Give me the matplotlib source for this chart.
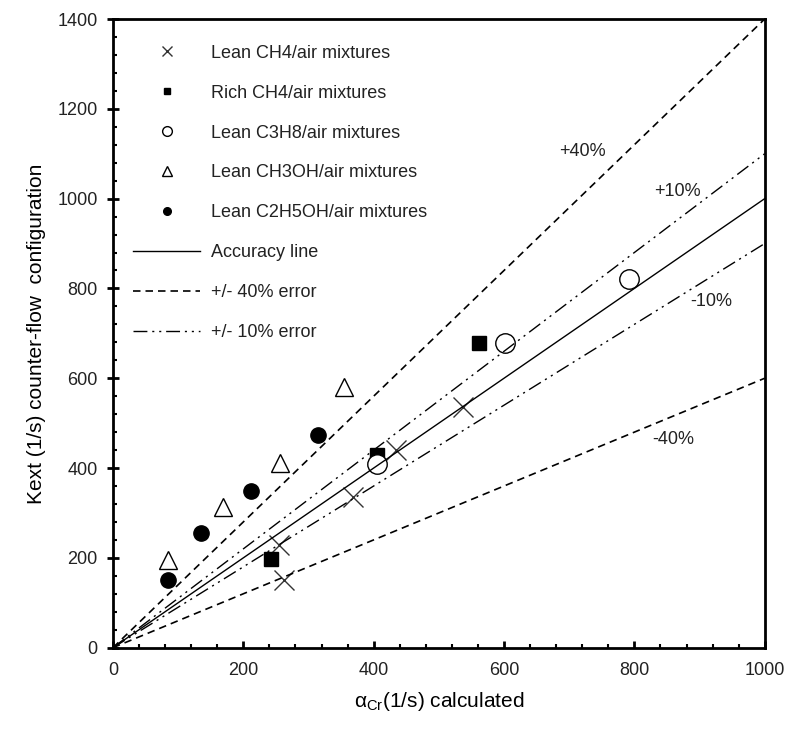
import matplotlib.pyplot as plt
import numpy as np

plt.rcParams['font.family'] = ['Liberation Sans', 'DejaVu Sans']
plt.rcParams['text.color'] = '#222222'
plt.rcParams['xtick.labelcolor'] = '#222222'
plt.rcParams['ytick.labelcolor'] = '#222222'

# data
lean_ch4_x = [262, 254, 368, 435, 537]
lean_ch4_y = [151, 229, 336, 441, 536]
rich_ch4_x = [243, 405, 562]
rich_ch4_y = [198, 429, 679]
c3h8_x = [405, 602, 792]
c3h8_y = [410, 679, 821]
ch3oh_x = [85, 169, 257, 355]
ch3oh_y = [196, 314, 412, 581]
c2h5oh_x = [85, 135, 212, 314]
c2h5oh_y = [151, 256, 349, 474]

line_x = [0, 1000]
factors = [1.0, 1.4, 0.6, 1.1, 0.9]

fig = plt.figure(figsize=(7.9, 7.31), dpi=100)
ax = fig.add_axes([0.143, 0.114, 0.825, 0.86])

ax.plot(lean_ch4_x, lean_ch4_y, 'x', color='#333333', ms=14, mew=1.0, label='Lean CH4/air mixtures')
ax.plot(rich_ch4_x, rich_ch4_y, 's', color='black', ms=10, label='Rich CH4/air mixtures')
ax.plot(c3h8_x, c3h8_y, 'o', mfc='white', mec='black', ms=14, mew=1.0, label='Lean C3H8/air mixtures')
ax.plot(ch3oh_x, ch3oh_y, '^', mfc='white', mec='black', ms=13, mew=1.0, label='Lean CH3OH/air mixtures')
ax.plot(c2h5oh_x, c2h5oh_y, 'o', color='black', ms=11, label='Lean C2H5OH/air mixtures')

lx = np.array(line_x)
ax.plot(lx, factors[0] * lx, '-', color='black', lw=1.0, label='Accuracy line')
ax.plot(lx, factors[1] * lx, color='black', lw=1.2, ls=(0, (4.5, 3)), label='+/- 40% error')
ax.plot(lx, factors[2] * lx, color='black', lw=1.2, ls=(0, (4.5, 3)))
ax.plot(lx, factors[3] * lx, color='black', lw=1.0, ls=(0, (10, 3.5, 1.5, 3.5, 1.5, 3.5)), label='+/- 10% error')
ax.plot(lx, factors[4] * lx, color='black', lw=1.0, ls=(0, (10, 3.5, 1.5, 3.5, 1.5, 3.5)))

ax.text(721, 1105, '+40%', fontsize=13, ha='center', va='center')
ax.text(866, 1016, '+10%', fontsize=13, ha='center', va='center')
ax.text(918, 771, '-10%', fontsize=13, ha='center', va='center')
ax.text(860, 463, '-40%', fontsize=13, ha='center', va='center')

ax.set_xlim(0, 1000)
ax.set_ylim(0, 1400)
ax.set_xticks(np.arange(0, 1001, 200))
ax.set_yticks(np.arange(0, 1401, 200))
ax.set_xticks(np.arange(0, 1001, 40), minor=True)
ax.set_yticks(np.arange(0, 1401, 40), minor=True)
ax.tick_params(axis='x', which='major', direction='in', length=5, width=2, labelsize=13, pad=10)
ax.tick_params(axis='y', which='major', direction='inout', length=8, width=2, labelsize=13, pad=7)
ax.tick_params(which='minor', direction='in', length=3, width=1.5)
for s in ax.spines.values():
    s.set_linewidth(2)

ax.set_xlabel(r'$\mathregular{\alpha_{Cr}}$(1/s) calculated', fontsize=15, labelpad=8)
ax.set_ylabel('Kext (1/s) counter-flow  configuration', fontsize=15, labelpad=8)

ax.legend(loc='upper left', bbox_to_anchor=(0.006, 0.985), frameon=False, fontsize=13,
          markerscale=0.5, handlelength=3.7, handletextpad=0.6, labelspacing=1.27)

fig.savefig('out.png', dpi=100)
